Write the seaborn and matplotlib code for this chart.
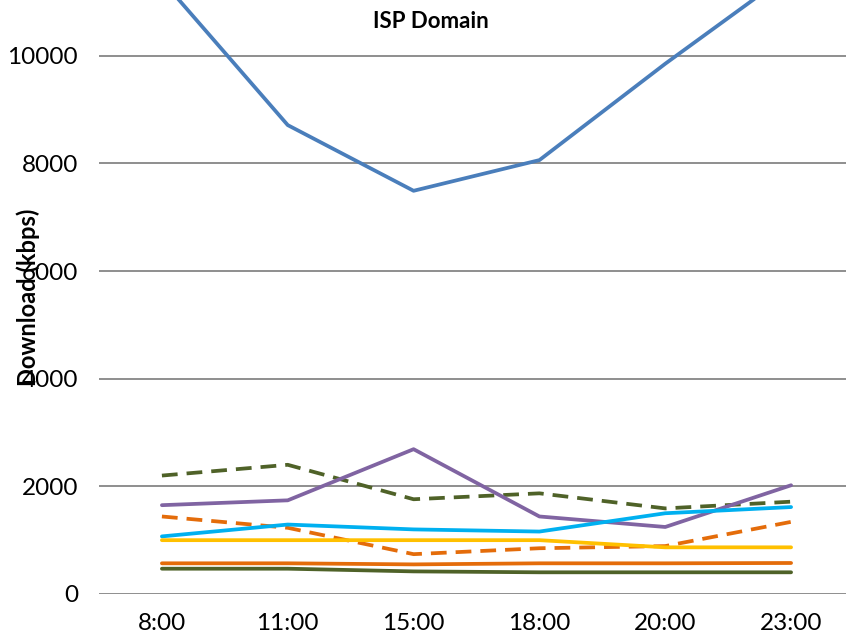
import seaborn as sns
import matplotlib.pyplot as plt
import pandas as pd

# times of day on the x axis
times = ['8:00', '11:00', '15:00', '18:00', '20:00', '23:00']

# download speed (kbps) per series
isp_main = [11400, 8710, 7490, 8060, 9850, 11550]
purple = [1650, 1740, 2690, 1440, 1245, 2020]
green_dash = [2200, 2400, 1760, 1870, 1590, 1715]
orange_dash = [1440, 1230, 740, 850, 890, 1340]
cyan = [1070, 1290, 1200, 1160, 1500, 1615]
yellow = [1000, 1000, 1000, 1000, 867, 867]
orange = [570, 570, 550, 570, 570, 576]
dark_green = [470, 470, 420, 403, 403, 403]

dash = (0, (4.2, 2.4))
series = [
    (isp_main, '#4A7EBB', '-'),
    (green_dash, '#4F6228', dash),
    (purple, '#8064A2', '-'),
    (orange_dash, '#E46C0A', dash),
    (cyan, '#00B0F0', '-'),
    (yellow, '#FFC000', '-'),
    (orange, '#E46C0A', '-'),
    (dark_green, '#4F6228', '-'),
]

sns.set_theme(style='white')
plt.rcParams['font.family'] = ['Lato', 'DejaVu Sans']
plt.rcParams['text.color'] = 'black'

fig = plt.figure(figsize=(8.46, 6.4), dpi=100)
# plot area is cropped at the top and right like the source image
ax = fig.add_axes([99 / 846, 46 / 640, 755 / 846, (594 + 52) / 640])

for vals, color, ls in series:
    df = pd.DataFrame({'time': times, 'kbps': vals})
    sns.lineplot(data=df, x='time', y='kbps', color=color, linestyle=ls,
                 linewidth=2.7, ax=ax, sort=False)

ax.set_ylim(0, 12000)
ax.set_xlim(-0.5, 5.5)
ax.set_yticks(range(0, 10001, 2000))
ax.yaxis.grid(True, color='#868686', linewidth=1.3)
ax.axhline(12000, color='#868686', linewidth=1.3, zorder=0)
ax.set_axisbelow(True)
for s in ax.spines.values():
    s.set_visible(False)
ax.tick_params(axis='both', length=0, labelsize=17.5, labelcolor='black')
ax.tick_params(axis='y', pad=15)
ax.tick_params(axis='x', pad=14)
ax.set_xlabel('')
ax.set_ylabel('')

fig.text(28 / 846, 1 - 297 / 640, 'Download (kbps)', rotation=90,
         ha='center', va='center', fontsize=17, fontweight='bold',
         color='black')
fig.text(431 / 846, 1 - 22 / 640, 'ISP Domain', ha='center', va='center',
         fontsize=16, fontweight='bold', color='black')

fig.savefig('out.png', dpi=100)
